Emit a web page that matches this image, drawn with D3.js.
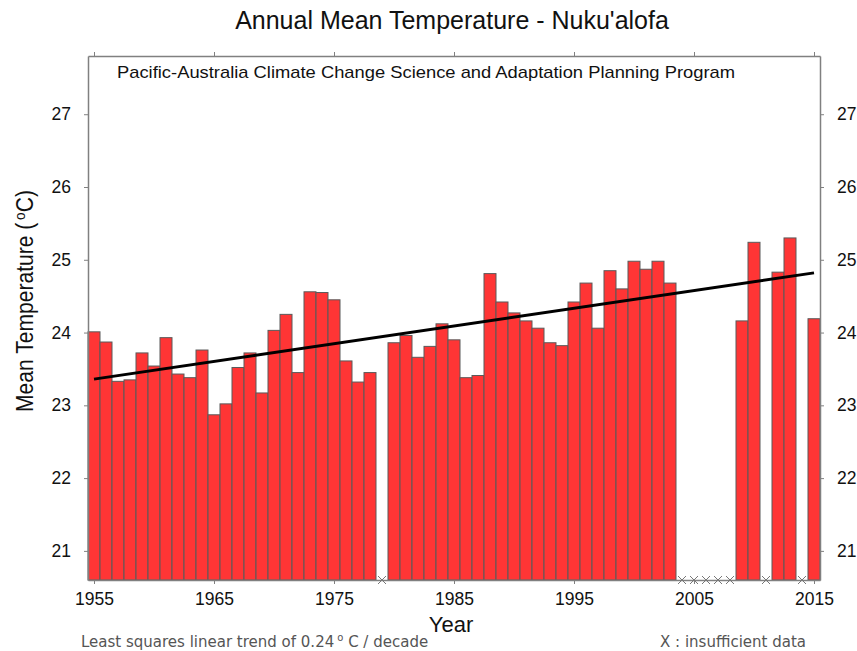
<!doctype html>
<html>
<meta charset="utf-8">
<style>
  body { margin: 0; background: #fff; }
  text { font-family: "Liberation Sans", Arial, sans-serif; fill: #111; }
  .note { font-family: "DejaVu Sans", Verdana, sans-serif; fill: #555; font-size: 15px; }
</style>
<head>
  <script src="https://cdn.jsdelivr.net/npm/d3@7"></script>
</head>
<body>
<script>
  // years with data and their annual mean temperature (deg C)
  var years = [1955, 1956, 1957, 1958, 1959, 1960, 1961, 1962, 1963, 1964,
               1965, 1966, 1967, 1968, 1969, 1970, 1971, 1972, 1973, 1974,
               1975, 1976, 1977, 1978, 1980, 1981, 1982, 1983, 1984, 1985,
               1986, 1987, 1988, 1989, 1990, 1991, 1992, 1993, 1994, 1995,
               1996, 1997, 1998, 1999, 2000, 2001, 2002, 2003, 2009, 2010,
               2012, 2013, 2015];
  var temps = [24.01, 23.87, 23.33, 23.35, 23.72, 23.54, 23.93, 23.43, 23.38, 23.76,
               22.87, 23.02, 23.52, 23.72, 23.17, 24.03, 24.25, 23.45, 24.56, 24.55,
               24.45, 23.61, 23.32, 23.45, 23.86, 23.96, 23.66, 23.81, 24.12, 23.90,
               23.38, 23.41, 24.81, 24.42, 24.27, 24.16, 24.06, 23.86, 23.82, 24.42,
               24.68, 24.06, 24.85, 24.60, 24.98, 24.87, 24.98, 24.68, 24.16, 25.24,
               24.83, 25.30, 24.19];
  // years marked X (insufficient data)
  var missingYears = [1979, 2004, 2005, 2006, 2007, 2008, 2011, 2014];
  // least squares trend line end points
  var trendYears = [1955, 2015];
  var trendValues = [23.36, 24.82];
  var yTicks = [21, 22, 23, 24, 25, 26, 27];
  var xTicks = [1955, 1965, 1975, 1985, 1995, 2005, 2015];

  var width = 857, height = 651;
  var mLeft = 88, mRight = 820, mTop = 56, mBottom = 580;

  var svg = d3.select("body").append("svg")
    .attr("width", width)
    .attr("height", height);

  var x = d3.scaleLinear().domain([1954.5, 2015.5]).range([mLeft, mRight]);
  var y = d3.scaleLinear().domain([20.6, 27.8]).range([mBottom, mTop]);

  // bars
  svg.append("g").selectAll("rect")
    .data(years)
    .enter().append("rect")
    .attr("x", function(d) { return x(d - 0.5); })
    .attr("width", function(d) { return x(d + 0.5) - x(d - 0.5); })
    .attr("y", function(d, i) { return y(temps[i]); })
    .attr("height", function(d, i) { return y(20.6) - y(temps[i]); })
    .attr("fill", "#ff3535")
    .attr("stroke", "#5a5a5a")
    .attr("stroke-width", 1);

  // trend line
  var line = d3.line()
    .x(function(d) { return x(d); })
    .y(function(d, i) { return y(trendValues[i]); });
  svg.append("path")
    .datum(trendYears)
    .attr("d", line)
    .attr("fill", "none")
    .attr("stroke", "#000")
    .attr("stroke-width", 3);

  // axes
  function styleAxis(g) {
    g.select(".domain").attr("stroke", "#808080").attr("stroke-width", 1.5);
    g.selectAll(".tick line").attr("stroke", "#808080");
    g.selectAll(".tick text").attr("fill", "#111")
      .style("font-family", "Liberation Sans, Arial, sans-serif")
      .style("font-size", "17.5px");
  }

  svg.append("g")
    .attr("transform", "translate(0," + mBottom + ")")
    .call(d3.axisBottom(x).tickValues(xTicks).tickFormat(d3.format("d")).tickSize(4).tickSizeOuter(0).tickPadding(9))
    .call(styleAxis);
  svg.append("g")
    .attr("transform", "translate(0," + mTop + ")")
    .call(d3.axisTop(x).tickValues(xTicks).tickFormat("").tickSize(4).tickSizeOuter(0))
    .call(styleAxis);
  svg.append("g")
    .attr("transform", "translate(" + mLeft + ",0)")
    .call(d3.axisLeft(y).tickValues(yTicks).tickSize(4).tickSizeOuter(0).tickPadding(13))
    .call(styleAxis);
  svg.append("g")
    .attr("transform", "translate(" + mRight + ",0)")
    .call(d3.axisRight(y).tickValues(yTicks).tickSize(4).tickSizeOuter(0).tickPadding(13))
    .call(styleAxis);

  // X markers for insufficient data
  svg.append("g").selectAll("path")
    .data(missingYears)
    .enter().append("path")
    .attr("d", function(d) {
      var cx = x(d), cy = mBottom, s = 4;
      return "M" + (cx - s) + "," + (cy - s) + "L" + (cx + s) + "," + (cy + s) +
             "M" + (cx - s) + "," + (cy + s) + "L" + (cx + s) + "," + (cy - s);
    })
    .attr("stroke", "#777")
    .attr("stroke-width", 1);

  // titles
  svg.append("text")
    .attr("x", 452).attr("y", 29)
    .attr("text-anchor", "middle")
    .style("font-size", "25px")
    .text("Annual Mean Temperature - Nuku'alofa");

  svg.append("text")
    .attr("x", 117).attr("y", 78)
    .attr("textLength", 618)
    .attr("lengthAdjust", "spacingAndGlyphs")
    .style("font-size", "17px")
    .text("Pacific-Australia Climate Change Science and Adaptation Planning Program");

  var yl = svg.append("text")
    .attr("transform", "translate(33,301) rotate(-90)")
    .attr("text-anchor", "middle")
    .attr("textLength", 222)
    .attr("lengthAdjust", "spacingAndGlyphs")
    .style("font-size", "23px");
  yl.append("tspan").text("Mean Temperature (");
  yl.append("tspan").attr("dx", 3).attr("dy", -8).style("font-size", "15px").text("o");
  yl.append("tspan").attr("dy", 8).text("C)");

  svg.append("text")
    .attr("x", 451).attr("y", 632)
    .attr("text-anchor", "middle")
    .style("font-size", "22px")
    .text("Year");

  var note = svg.append("text")
    .attr("class", "note")
    .attr("x", 81).attr("y", 647);
  note.append("tspan").text("Least squares linear trend of 0.24");
  note.append("tspan").attr("dx", 3).attr("dy", -6).style("font-size", "10px").text("o");
  note.append("tspan").attr("dy", 6).text(" C / decade");

  svg.append("text")
    .attr("class", "note")
    .attr("x", 806).attr("y", 647)
    .attr("text-anchor", "end")
    .text("X : insufficient data");
</script>
</body>
</html>
